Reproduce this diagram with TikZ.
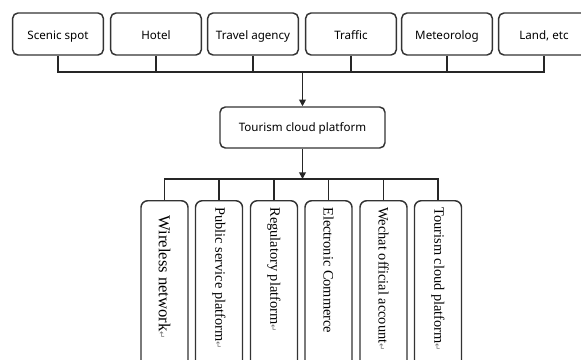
\documentclass[tikz,border=0pt]{standalone}
\usepackage{fontspec}
\setmainfont{Liberation Serif}
\newfontfamily\boxfont{Noto Sans}
\newfontfamily\markfont{DejaVu Sans}
\usetikzlibrary{arrows.meta}
\newcommand{\parmark}{{\markfont\fontsize{6.5}{6.5}\selectfont\color{black!55}↵}}

\begin{document}
\begin{tikzpicture}[x=0.75pt,y=0.75pt,yscale=-1,xscale=1,
  srcbox/.style={draw=black!80, line width=1.1pt, rounded corners=4pt, minimum width=68pt, minimum height=31.5pt, inner sep=0.75pt, text height=10pt, text depth=2pt, font=\boxfont\fontsize{8.7}{10}\selectfont},
  hubbox/.style={srcbox, minimum width=123.75pt, minimum height=30.75pt, text height=8.5pt},
  usebox/.style={draw=black!80, line width=1.1pt, rounded corners=5pt, rotate=-90, anchor=west, minimum height=35.25pt, inner xsep=5pt, text width=134pt, align=flush left, font=\fontsize{10.8}{12}\selectfont},
  bus/.style={draw=black!85, line width=1.3pt},
  tip/.style={-{Triangle[length=5pt,width=5pt]}}]
\path[use as bounding box, clip] (0,0) rectangle (581,360);

%Shape: Rounded Rect (top row)
\node[srcbox] (spot) at (58,34) {Scenic spot};
\node[srcbox] (hotel) at (156,34) {Hotel};
\node[srcbox] (agency) at (253,34) {Travel agency};
\node[srcbox] (traffic) at (351,34) {Traffic};
\node[srcbox] (meteo) at (447,34) {Meteorolog};
\node[srcbox] (land) at (544,34) {Land, etc};

%Shape: Rounded Rect (platform)
\node[hubbox] (cloud) at (302.5,127.5) {Tourism cloud platform};

%Shape: Rounded Rect (bottom row)
\node[usebox, inner xsep=11pt, font=\fontsize{12.5}{14}\selectfont] (wireless) at (164.5,200) {Wireless network\parmark};
\node[usebox] (public) at (219,200) {Public service platform\parmark};
\node[usebox] (regulatory) at (274,200) {Regulatory platform\parmark};
\node[usebox] (commerce) at (328.5,200) {Electronic Commerce};
\node[usebox] (wechat) at (383.5,200) {Wechat official account\parmark};
\node[usebox] (tourism) at (438,200) {Tourism cloud platform\parmark};

%Straight Lines (upper bus)
\coordinate (topbus) at (302,72);
\draw[bus] (spot.south) |- (land.south |- topbus) -- (land.south);
\foreach \src in {hotel,agency,traffic,meteo}
  \draw[bus] (\src.south) -- (\src.south |- topbus);
\draw[bus,tip] (cloud.north |- topbus) -- (cloud.north);

%Straight Lines (lower bus)
\coordinate (lowbus) at (302,179);
\draw[bus,tip] (cloud.south) -- (cloud.south |- lowbus);
\draw[bus] (wireless.west) |- (tourism.west |- lowbus) -- (tourism.west);
\foreach \dst in {public,regulatory,commerce,wechat}
  \draw[bus] (\dst.west) -- (\dst.west |- lowbus);

\end{tikzpicture}
\end{document}
